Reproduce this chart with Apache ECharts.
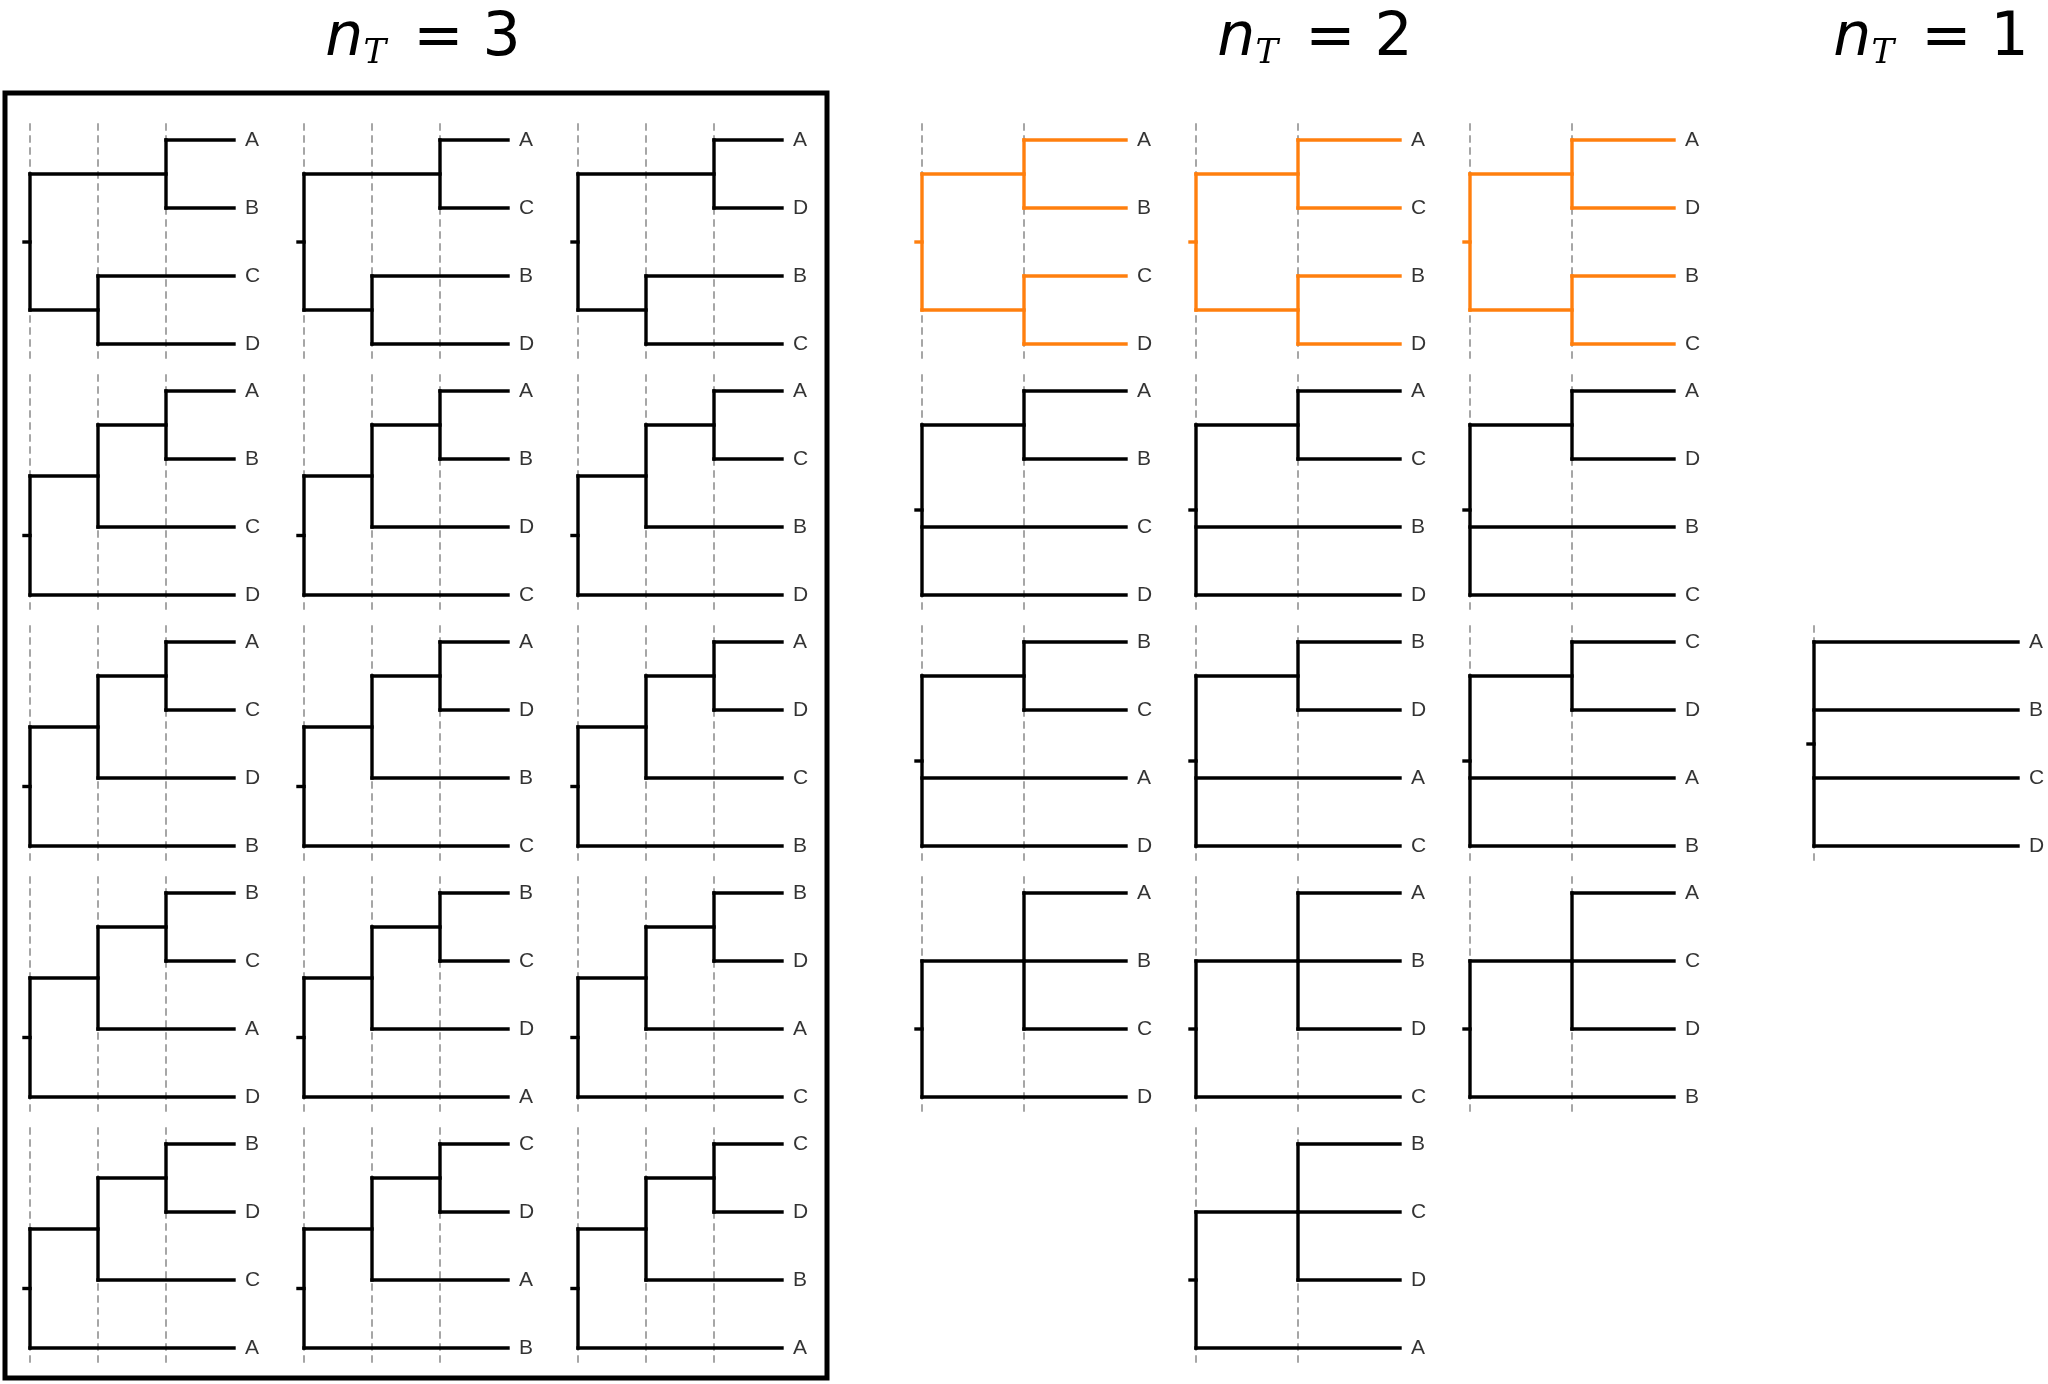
<!DOCTYPE html>
<html><head><meta charset="utf-8">
<script src="https://cdn.jsdelivr.net/npm/echarts@6/dist/echarts.min.js"></script>
<style>html,body{margin:0;padding:0;background:#fff}#c{width:2048px;height:1384px}</style>
</head><body><div id="c"></div>
<script>
// Tree topologies: "(children)level" with level = merge step (root 0)
const group3Trees = [
  "((A,B)2,(C,D)1)0","((A,C)2,(B,D)1)0","((A,D)2,(B,C)1)0",
  "(((A,B)2,C)1,D)0","(((A,B)2,D)1,C)0","(((A,C)2,B)1,D)0",
  "(((A,C)2,D)1,B)0","(((A,D)2,B)1,C)0","(((A,D)2,C)1,B)0",
  "(((B,C)2,A)1,D)0","(((B,C)2,D)1,A)0","(((B,D)2,A)1,C)0",
  "(((B,D)2,C)1,A)0","(((C,D)2,A)1,B)0","(((C,D)2,B)1,A)0"
];
const group3Cells = [[0,0],[0,1],[0,2],[1,0],[1,1],[1,2],[2,0],[2,1],[2,2],[3,0],[3,1],[3,2],[4,0],[4,1],[4,2]];
const group2Trees = [
  "((A,B)1,(C,D)1)0","((A,C)1,(B,D)1)0","((A,D)1,(B,C)1)0",
  "((A,B)1,C,D)0","((A,C)1,B,D)0","((A,D)1,B,C)0",
  "((B,C)1,A,D)0","((B,D)1,A,C)0","((C,D)1,A,B)0",
  "((A,B,C)1,D)0","((A,B,D)1,C)0","((A,C,D)1,B)0",
  "((B,C,D)1,A)0"
];
const group2Cells = [[0,0],[0,1],[0,2],[1,0],[1,1],[1,2],[2,0],[2,1],[2,2],[3,0],[3,1],[3,2],[4,1]];
const group2Highlight = [1,1,1,0,0,0,0,0,0,0,0,0,0];
const group1Trees = ["(A,B,C,D)0"];
const group1Cells = [[2,0]];
const groupN = [3,2,1];
const titles = ["3","2","1"];

// layout
const L = {rowTop:140, leafGap:68, rowGap:251, colGap:274, width:204, baseX:[30,922,1814], titleX:[418,1310,1926]};

function parse(s){
  let i=0;
  function node(){
    if(s[i]==='('){
      i++; const c=[];
      while(true){ c.push(node()); if(s[i]===','){i++;continue;} if(s[i]===')'){i++;break;} }
      let num=''; while(i<s.length && /[0-9]/.test(s[i])) num+=s[i++];
      return {c, lev:+num};
    }
    return {leaf:s[i++]};
  }
  return node();
}

const segs={black:[],orange:[]}, dashes=[], labels=[];
function drawTree(str,n,x0,y0,color){
  const t=parse(str), step=L.width/n; let k=0;
  function lay(nd){
    if(nd.leaf){ nd.y=y0+L.leafGap*(k++); nd.x=x0+L.width; labels.push({value:[nd.x+11,nd.y],name:nd.leaf}); return; }
    nd.c.forEach(lay);
    nd.x=x0+step*nd.lev;
    nd.y=(nd.c[0].y+nd.c[nd.c.length-1].y)/2;
    segs[color].push([[nd.x,nd.c[0].y],[nd.x,nd.c[nd.c.length-1].y]]);
    nd.c.forEach(ch=>segs[color].push([[nd.x,ch.y],[ch.x,ch.y]]));
  }
  lay(t);
  segs[color].push([[t.x-6,t.y],[t.x,t.y]]);
  for(let l=0;l<n;l++) dashes.push([[x0+step*l,y0-16],[x0+step*l,y0+3*L.leafGap+16]]);
}
[[group3Trees,group3Cells,null],[group2Trees,group2Cells,group2Highlight],[group1Trees,group1Cells,null]].forEach(([trees,cells,hl],g)=>{
  trees.forEach((s,i)=>{
    const [r,c]=cells[i];
    drawTree(s,groupN[g],L.baseX[g]+L.colGap*c,L.rowTop+L.rowGap*r,(hl&&hl[i])?'orange':'black');
  });
});

const chart=echarts.init(document.getElementById('c'));
const linesOf=(arr,color,w,type,z)=>({type:'lines',coordinateSystem:'cartesian2d',polyline:true,silent:true,z,
  lineStyle:{color,width:w,type,opacity:1,cap:'square'},data:arr.map(c=>({coords:c}))});
chart.setOption({
  animation:false,
  grid:{left:0,right:0,top:0,bottom:0},
  xAxis:{type:'value',min:0,max:2048,show:false},
  yAxis:{type:'value',min:0,max:1384,inverse:true,show:false},
  title:titles.map((t,g)=>({text:'{n|n}{s|T}{e| = '+t+'}',left:L.titleX[g],top:-2,textAlign:'center',
    textStyle:{fontWeight:'normal',rich:{
      n:{fontFamily:'DejaVu Sans',fontStyle:'italic',fontWeight:'normal',fontSize:60,color:'#000',lineHeight:72},
      s:{fontFamily:'DejaVu Serif',fontStyle:'italic',fontWeight:'normal',fontSize:34,color:'#000',padding:[30,8,0,0],lineHeight:72},
      e:{fontFamily:'DejaVu Sans',fontWeight:'normal',fontSize:60,color:'#000',lineHeight:72}}}})),
  graphic:[{type:'rect',shape:{x:5,y:93,width:822,height:1285},style:{fill:'none',stroke:'#000',lineWidth:5},z:10}],
  series:[
    linesOf(dashes,'#777',1.3,[6,6],1),
    linesOf(segs.black,'#000',3.4,'solid',3),
    linesOf(segs.orange,'#ff7f0e',3.4,'solid',3),
    {type:'scatter',symbolSize:0,silent:true,data:labels,
     label:{show:true,position:'right',distance:0,formatter:p=>p.name,fontFamily:'Liberation Sans',fontSize:21,color:'#000'}}
  ]
});
</script></body></html>
